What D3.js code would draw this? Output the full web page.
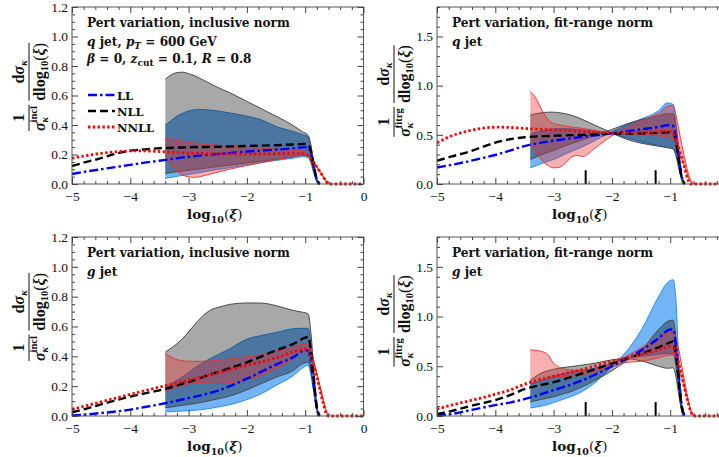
<!DOCTYPE html>
<html><head><meta charset="utf-8">
<script src="https://cdn.jsdelivr.net/npm/d3@7"></script>
<style>
body{margin:0;background:#fff}
svg{display:block}
text{font-family:"Liberation Serif","Times New Roman",serif;fill:#111}
.dv{font-family:"DejaVu Serif",serif}
</style>
</head><body>
<svg id="c" width="719" height="457"></svg>
<script>
// ---------- DATA ----------
const lineX = [-5,-4.75,-4.5,-4.25,-4,-3.75,-3.5,-3,-2.5,-2,-1.5,-1.2,-1.0,-0.95,-0.9,-0.85,-0.8,-0.75,-0.7,-0.65,-0.6,0];
const bandX = [-3.4,-3.3,-3.2,-3.1,-3.0,-2.9,-2.8,-2.7,-2.6,-2.5,-2.3,-2.0,-1.75,-1.5,-1.2,-1.05,-0.95,-0.9,-0.85,-0.8,-0.75,-0.7,-0.65,-0.6];
const xTicks = [-5,-4,-3,-2,-1,0];
const xTickLabels = ["\u22125","\u22124","\u22123","\u22122","\u22121","0"];
const yTicksIncl = [0,0.2,0.4,0.6,0.8,1.0,1.2];
const yTickLabelsIncl = ["0.0","0.2","0.4","0.6","0.8","1.0","1.2"];
const yTicksFit = [0,0.5,1.0,1.5];
const yTickLabelsFit = ["0.0","0.5","1.0","1.5"];
const fitMarks = [-2.45,-1.25];
const legendLabels = ["LL","NLL","NNLL"];

// q jet, inclusive norm
const qInclLL   = [0.068,0.085,0.10,0.115,0.13,0.145,0.158,0.185,0.203,0.22,0.233,0.242,0.25,0.25,0.2,0.11,0.03,0,0,0,0,0];
const qInclNLL  = [0.122,0.15,0.175,0.205,0.226,0.235,0.242,0.249,0.253,0.258,0.263,0.268,0.272,0.27,0.22,0.12,0.03,0,0,0,0,0];
const qInclNNLL = [0.174,0.193,0.208,0.218,0.224,0.224,0.22,0.21,0.205,0.203,0.205,0.207,0.205,0.19,0.17,0.145,0.115,0.085,0.055,0.025,0,0];
const qInclGrayA = [0.71,0.74,0.755,0.758,0.748,0.735,0.715,0.695,0.675,0.655,0.62,0.56,0.51,0.46,0.395,0.355,0.33,0.26,0.13,0.03,0,0,0,0];
const qInclGrayB = [0.072,0.077,0.083,0.088,0.093,0.098,0.103,0.108,0.113,0.118,0.128,0.143,0.155,0.168,0.185,0.195,0.19,0.15,0.08,0.02,0,0,0,0];
const qInclBlueA = [0.40,0.43,0.46,0.48,0.495,0.503,0.505,0.503,0.50,0.495,0.482,0.46,0.435,0.39,0.355,0.335,0.32,0.25,0.12,0.03,0,0,0,0];
const qInclBlueB = [0.038,0.045,0.052,0.058,0.065,0.072,0.078,0.085,0.092,0.098,0.11,0.13,0.145,0.16,0.175,0.185,0.18,0.14,0.07,0.015,0,0,0,0];
const qInclRedA  = [0.31,0.305,0.298,0.29,0.282,0.277,0.272,0.268,0.265,0.263,0.258,0.25,0.243,0.237,0.23,0.226,0.21,0.185,0.155,0.12,0.09,0.06,0.03,0];
const qInclRedB  = [0.19,0.13,0.085,0.06,0.048,0.045,0.05,0.06,0.07,0.08,0.10,0.125,0.145,0.165,0.185,0.2,0.19,0.17,0.14,0.11,0.08,0.05,0.02,0];

// q jet, fit-range norm
const qFitLL   = [0.167,0.195,0.225,0.26,0.295,0.34,0.385,0.44,0.48,0.515,0.555,0.58,0.60,0.59,0.47,0.26,0.07,0,0,0,0,0];
const qFitNLL  = [0.236,0.28,0.32,0.37,0.42,0.455,0.475,0.49,0.50,0.51,0.515,0.52,0.525,0.52,0.42,0.23,0.06,0,0,0,0,0];
const qFitNNLL = [0.42,0.49,0.535,0.565,0.578,0.575,0.565,0.55,0.535,0.52,0.525,0.535,0.535,0.52,0.44,0.36,0.26,0.16,0.05,0,0,0];
const qFitGrayA = [0.70,0.715,0.725,0.73,0.73,0.725,0.715,0.70,0.68,0.655,0.60,0.52,0.455,0.415,0.385,0.37,0.36,0.29,0.16,0.04,0,0,0,0];
const qFitGrayB = [0.25,0.275,0.30,0.32,0.34,0.365,0.39,0.41,0.43,0.45,0.49,0.555,0.61,0.655,0.695,0.715,0.715,0.57,0.31,0.08,0,0,0,0];
const qFitBlueA = [0.51,0.525,0.54,0.55,0.56,0.562,0.562,0.56,0.555,0.55,0.535,0.51,0.47,0.43,0.39,0.37,0.355,0.28,0.15,0.04,0,0,0,0];
const qFitBlueB = [0.165,0.185,0.21,0.23,0.25,0.275,0.305,0.33,0.355,0.38,0.44,0.53,0.60,0.66,0.745,0.825,0.81,0.62,0.33,0.08,0,0,0,0];
const qFitRedA  = [0.94,0.87,0.75,0.66,0.615,0.60,0.59,0.58,0.573,0.565,0.545,0.515,0.51,0.505,0.49,0.475,0.46,0.40,0.33,0.25,0.17,0.08,0.02,0];
const qFitRedB  = [0.42,0.32,0.24,0.19,0.165,0.17,0.21,0.27,0.29,0.28,0.36,0.49,0.57,0.64,0.72,0.79,0.80,0.70,0.55,0.40,0.26,0.13,0.04,0];

// g jet, inclusive norm
const gInclLL   = [0.003,0.01,0.02,0.03,0.043,0.06,0.078,0.12,0.17,0.25,0.345,0.395,0.44,0.44,0.36,0.2,0.05,0,0,0,0,0];
const gInclNLL  = [0.025,0.05,0.078,0.105,0.13,0.152,0.172,0.229,0.295,0.36,0.44,0.484,0.525,0.53,0.43,0.24,0.06,0,0,0,0,0];
const gInclNNLL = [0.045,0.07,0.095,0.12,0.145,0.17,0.194,0.24,0.29,0.34,0.39,0.43,0.45,0.445,0.40,0.33,0.26,0.18,0.10,0.03,0,0];
const gInclGrayA = [0.428,0.455,0.484,0.52,0.565,0.61,0.655,0.69,0.715,0.727,0.748,0.758,0.757,0.74,0.707,0.696,0.685,0.55,0.3,0.07,0,0,0,0];
const gInclGrayB = [0.056,0.06,0.066,0.072,0.077,0.083,0.09,0.098,0.106,0.115,0.133,0.175,0.218,0.26,0.306,0.35,0.36,0.29,0.16,0.04,0,0,0,0];
const gInclBlueA = [0.19,0.215,0.24,0.265,0.29,0.32,0.345,0.37,0.39,0.41,0.45,0.515,0.54,0.56,0.585,0.588,0.588,0.47,0.26,0.06,0,0,0,0];
const gInclBlueB = [0.027,0.029,0.031,0.034,0.036,0.038,0.042,0.047,0.053,0.06,0.075,0.11,0.15,0.205,0.272,0.32,0.34,0.27,0.15,0.035,0,0,0,0];
const gInclRedA  = [0.42,0.395,0.378,0.37,0.367,0.366,0.366,0.368,0.37,0.373,0.383,0.397,0.41,0.435,0.462,0.484,0.475,0.44,0.37,0.29,0.21,0.13,0.05,0];
const gInclRedB  = [0.16,0.18,0.194,0.205,0.215,0.222,0.226,0.225,0.218,0.218,0.222,0.243,0.272,0.317,0.384,0.43,0.43,0.40,0.34,0.27,0.19,0.11,0.04,0];

// g jet, fit-range norm
const gFitLL   = [0.005,0.02,0.05,0.08,0.11,0.135,0.17,0.26,0.36,0.5,0.66,0.78,0.87,0.87,0.7,0.38,0.1,0,0,0,0,0];
const gFitNLL  = [0.02,0.05,0.09,0.125,0.16,0.21,0.27,0.34,0.43,0.53,0.625,0.69,0.74,0.75,0.6,0.33,0.08,0,0,0,0,0];
const gFitNNLL = [0.07,0.11,0.145,0.18,0.22,0.26,0.32,0.40,0.47,0.55,0.62,0.665,0.70,0.69,0.62,0.52,0.40,0.27,0.15,0.05,0,0];
const gFitGrayA = [0.36,0.40,0.435,0.455,0.47,0.48,0.49,0.497,0.505,0.513,0.53,0.565,0.575,0.555,0.50,0.48,0.485,0.39,0.2,0.05,0,0,0,0];
const gFitGrayB = [0.142,0.155,0.168,0.18,0.193,0.21,0.228,0.245,0.27,0.295,0.355,0.455,0.555,0.66,0.87,0.95,0.965,0.77,0.4,0.1,0,0,0,0];
const gFitBlueA = [0.32,0.34,0.36,0.38,0.40,0.415,0.43,0.44,0.45,0.46,0.48,0.53,0.58,0.60,0.62,0.63,0.62,0.5,0.25,0.05,0,0,0,0];
const gFitBlueB = [0.08,0.09,0.10,0.115,0.135,0.155,0.175,0.195,0.22,0.25,0.33,0.50,0.65,0.86,1.2,1.34,1.37,1.15,0.5,0.1,0,0,0,0];
const gFitRedA  = [0.665,0.66,0.648,0.62,0.53,0.49,0.47,0.462,0.46,0.462,0.47,0.50,0.54,0.55,0.585,0.61,0.614,0.57,0.48,0.38,0.27,0.16,0.06,0];
const gFitRedB  = [0.33,0.345,0.36,0.375,0.39,0.395,0.398,0.40,0.405,0.415,0.44,0.52,0.60,0.685,0.78,0.835,0.85,0.78,0.66,0.50,0.34,0.19,0.06,0];

// ---------- DRAW ----------
const svg = d3.select("#c");
const PW = 291.5;
const panels = [
  {x0:72,  y0:184, y1:7,   ymax:1.2, norm:"incl", kind:"incl", jet:"q", ll:qInclLL, nll:qInclNLL, nnll:qInclNNLL,
   gA:qInclGrayA,gB:qInclGrayB,bA:qInclBlueA,bB:qInclBlueB,rA:qInclRedA,rB:qInclRedB},
  {x0:437, y0:184, y1:7,   ymax:1.8, norm:"fitrg", kind:"fit", jet:"q", ll:qFitLL, nll:qFitNLL, nnll:qFitNNLL,
   gA:qFitGrayA,gB:qFitGrayB,bA:qFitBlueA,bB:qFitBlueB,rA:qFitRedA,rB:qFitRedB},
  {x0:72,  y0:416, y1:237, ymax:1.2, norm:"incl", kind:"incl", jet:"g", ll:gInclLL, nll:gInclNLL, nnll:gInclNNLL,
   gA:gInclGrayA,gB:gInclGrayB,bA:gInclBlueA,bB:gInclBlueB,rA:gInclRedA,rB:gInclRedB},
  {x0:437, y0:416, y1:237, ymax:1.8, norm:"fitrg", kind:"fit", jet:"g", ll:gFitLL, nll:gFitNLL, nnll:gFitNNLL,
   gA:gFitGrayA,gB:gFitGrayB,bA:gFitBlueA,bB:gFitBlueB,rA:gFitRedA,rB:gFitRedB}
];

const styles = {
  LL:   {stroke:"#0000ff", w:2.4, dash:"9,3,2.5,3"},
  NLL:  {stroke:"#000000", w:2.4, dash:"8,4"},
  NNLL: {stroke:"#ff0000", w:2.8, dash:"2.4,2.4"}
};
const bandStyle = {
  blue: {fill:"rgba(20,130,240,0.6)", stroke:"#2a8ff0"},
  gray: {fill:"rgba(0,0,0,0.34)", stroke:"#4a4a4a"},
  red:  {fill:"rgba(235,45,45,0.38)", stroke:"rgba(230,50,50,0.9)"}
};

// measure title font size so its width matches the reference
const probe = svg.append("text").attr("class","dv").attr("font-size",12).attr("font-weight","bold")
  .text("Pert variation, inclusive norm");
const TFS = 12 * 203 / probe.node().getComputedTextLength();
probe.remove();

panels.forEach((p, pi) => {
  const x = d3.scaleLinear().domain([-5,0]).range([p.x0, p.x0+PW]);
  const y = d3.scaleLinear().domain([0,p.ymax]).range([p.y0, p.y1]);
  const g = svg.append("g");
  const cid = "clip"+pi;
  svg.append("clipPath").attr("id",cid).append("rect")
    .attr("x",p.x0).attr("y",p.y1).attr("width",PW).attr("height",p.y0-p.y1+3);
  const plot = g.append("g").attr("clip-path","url(#"+cid+")");

  [["blue",p.bA,p.bB],["gray",p.gA,p.gB],["red",p.rA,p.rB]].forEach(([k,A,B])=>{
    const s = bandStyle[k];
    const lim = k==="red" ? -0.6 : -0.75;
    const ar = d3.area().defined((d,i)=>bandX[i] <= lim+1e-9).x((d,i)=>x(bandX[i])).y0(d=>y(d[0])).y1(d=>y(d[1])).curve(d3.curveMonotoneX);
    const bl = d3.line().defined((d,i)=>bandX[i] <= lim+1e-9).x((d,i)=>x(bandX[i])).y(d=>y(d)).curve(d3.curveMonotoneX);
    plot.append("path").datum(A.map((a,i)=>[a,B[i]])).attr("d",ar).attr("fill",s.fill).attr("stroke","none");
    [A,B].forEach(E=>plot.append("path").datum(E).attr("d",bl).attr("fill","none")
      .attr("stroke",s.stroke).attr("stroke-width",1));
  });

  [["LL",p.ll],["NLL",p.nll],["NNLL",p.nnll]].forEach(([k,arr])=>{
    const s = styles[k];
    const lim = k==="NNLL" ? 0 : -0.75;
    const ll = d3.line().defined((d,i)=>lineX[i] <= lim+1e-9).x((d,i)=>x(lineX[i])).y(d=>y(d)).curve(d3.curveMonotoneX);
    plot.append("path").datum(arr).attr("d",ll).attr("fill","none")
      .attr("stroke",s.stroke).attr("stroke-width",s.w).attr("stroke-dasharray",s.dash);
  });

  if (p.kind==="fit") {
    fitMarks.forEach(m=>plot.append("line").attr("x1",x(m)).attr("x2",x(m))
      .attr("y1",y(0)).attr("y2",y(0.14)).attr("stroke","#000").attr("stroke-width",2));
  }

  // frame
  g.append("rect").attr("x",p.x0).attr("y",p.y1).attr("width",PW).attr("height",p.y0-p.y1)
    .attr("fill","none").attr("stroke","#555").attr("stroke-width",1);

  // ticks
  const xMinor = d3.range(-5,0.001,0.2).map(v=>Math.round(v*10)/10).filter(v=>Math.abs(v-Math.round(v))>1e-6);
  const yStep = p.kind==="incl"?0.05:0.1;
  const yMaj = p.kind==="incl"?yTicksIncl:yTicksFit;
  const yLab = p.kind==="incl"?yTickLabelsIncl:yTickLabelsFit;
  const yMinor = d3.range(0,p.ymax+0.001,yStep).map(v=>Math.round(v*100)/100).filter(v=>!yMaj.some(m=>Math.abs(m-v)<1e-6));
  const xMajShown = p.kind==="incl" ? xTicks : xTicks.slice(0,5);

  const style = sel => { sel.select(".domain").remove(); sel.selectAll("line").attr("stroke","#444");
    sel.selectAll("text").attr("font-size",13.5).attr("fill","#111").attr("font-family","Liberation Serif, serif"); };

  g.append("g").attr("transform",`translate(0,${p.y0})`)
    .call(d3.axisBottom(x).tickValues(xMajShown).tickSizeInner(-6).tickSizeOuter(0).tickPadding(7)
      .tickFormat((d,i)=>xTickLabels[i])).call(style);
  g.append("g").attr("transform",`translate(0,${p.y0})`)
    .call(d3.axisBottom(x).tickValues(xMinor).tickSizeInner(-3).tickSizeOuter(0).tickFormat("")).call(style);
  g.append("g").attr("transform",`translate(0,${p.y1})`)
    .call(d3.axisTop(x).tickValues(xTicks).tickSizeInner(-6).tickSizeOuter(0).tickFormat("")).call(style);
  g.append("g").attr("transform",`translate(0,${p.y1})`)
    .call(d3.axisTop(x).tickValues(xMinor).tickSizeInner(-3).tickSizeOuter(0).tickFormat("")).call(style);

  g.append("g").attr("transform",`translate(${p.x0},0)`)
    .call(d3.axisLeft(y).tickValues(yMaj).tickSizeInner(-6).tickSizeOuter(0).tickPadding(4)
      .tickFormat((d,i)=>yLab[i])).call(style);
  g.append("g").attr("transform",`translate(${p.x0},0)`)
    .call(d3.axisLeft(y).tickValues(yMinor).tickSizeInner(-3).tickSizeOuter(0).tickFormat("")).call(style);
  g.append("g").attr("transform",`translate(${p.x0+PW},0)`)
    .call(d3.axisRight(y).tickValues(yMaj).tickSizeInner(-6).tickSizeOuter(0).tickFormat("")).call(style);
  g.append("g").attr("transform",`translate(${p.x0+PW},0)`)
    .call(d3.axisRight(y).tickValues(yMinor).tickSizeInner(-3).tickSizeOuter(0).tickFormat("")).call(style);

  // x axis title
  const xt = g.append("text").attr("class","dv").attr("x",p.x0+PW/2-3).attr("y",p.y0+35).attr("text-anchor","middle")
    .attr("font-size",13.5).attr("font-weight","bold");
  xt.append("tspan").text("log");
  xt.append("tspan").attr("font-size",9.5).attr("dy",4).text("10");
  xt.append("tspan").attr("dy",-4).attr("font-weight","normal").text("(");
  xt.append("tspan").attr("font-style","italic").text("\u03BE");
  xt.append("tspan").attr("font-weight","normal").text(")");

  // y axis label (rotated fraction)
  const bx = p.x0 - 43, cy = p.y1 + (p.kind==="incl" ? 80 : 84);
  const yl = g.append("g").attr("class","dv").attr("transform",`translate(${bx},${cy}) rotate(-90)`)
    .attr("font-weight","bold");
  const fs = 16, fsS = 10.5;
  const d1 = yl.append("text").attr("y",15.5).attr("font-size",fs);
  d1.append("tspan").attr("font-style","italic").text("\u03C3");
  const sup = d1.append("tspan").attr("font-size",fsS).attr("dy",-7.5).text(p.norm);
  const supW = sup.node().getComputedTextLength();
  d1.append("tspan").attr("font-size",fsS).attr("font-style","italic").attr("dx",-supW).attr("dy",10.5).text("\u03BA");
  const d2 = yl.append("text").attr("y",15.5).attr("font-size",fs);
  d2.append("tspan").text("dlog");
  d2.append("tspan").attr("font-size",fsS).attr("dy",3.5).text("10");
  d2.append("tspan").attr("dy",-3.5).attr("font-weight","normal").text("(");
  d2.append("tspan").attr("font-style","italic").text("\u03BE");
  d2.append("tspan").attr("font-weight","normal").text(")");
  const w1 = Math.max(d1.node().getBBox().width, supW+10);
  const w2 = d2.node().getBBox().width;
  const gap = 4;
  const total = w1 + gap + w2;
  const start1 = -total/2;
  d1.attr("x", start1);
  const start2 = start1 + w1 + gap;
  d2.attr("x", start2);
  yl.append("text").attr("x",start1+w1/2).attr("y",-5).attr("text-anchor","middle").attr("font-size",fs).text("1");
  const n2 = yl.append("text").attr("x",start2+w2/2).attr("y",-5).attr("text-anchor","middle").attr("font-size",fs);
  n2.append("tspan").text("d");
  n2.append("tspan").attr("font-style","italic").text("\u03C3");
  n2.append("tspan").attr("font-size",fsS).attr("font-style","italic").attr("dy",3).text("\u03BA");
  yl.append("line").attr("x1",start1).attr("x2",start1+w1).attr("y1",0).attr("y2",0).attr("stroke","#111").attr("stroke-width",1);
  yl.append("line").attr("x1",start2).attr("x2",start2+w2).attr("y1",0).attr("y2",0).attr("stroke","#111").attr("stroke-width",1);

  // titles
  const tx = p.x0 + 15, ty = p.y1 + 20;
  g.append("text").attr("class","dv").attr("x",tx).attr("y",ty).attr("font-size",TFS).attr("font-weight","bold")
    .text(p.kind==="incl" ? "Pert variation, inclusive norm" : "Pert variation, fit-range norm");
  const t2 = g.append("text").attr("class","dv").attr("x",tx).attr("y",ty+18.5).attr("font-size",TFS).attr("font-weight","bold");
  t2.append("tspan").attr("font-style","italic").text(p.jet);
  t2.append("tspan").text(" jet");
  if (pi===0) {
    t2.append("tspan").text(", ");
    t2.append("tspan").attr("font-style","italic").text("p");
    t2.append("tspan").attr("font-style","italic").attr("font-size",9).attr("dy",3).text("T");
    t2.append("tspan").attr("dy",-3).text(" = 600 GeV");
    const t3 = g.append("text").attr("class","dv").attr("x",tx).attr("y",ty+36).attr("font-size",TFS).attr("font-weight","bold");
    t3.append("tspan").attr("font-style","italic").text("\u03B2");
    t3.append("tspan").text(" =  0,  ");
    t3.append("tspan").attr("font-style","italic").text("z");
    t3.append("tspan").attr("font-size",9).attr("dy",3).text("cut");
    t3.append("tspan").attr("dy",-3).text(" = 0.1,  ");
    t3.append("tspan").attr("font-style","italic").text("R");
    t3.append("tspan").text(" = 0.8");

    // legend
    legendLabels.forEach((lab,i)=>{
      const ly = 95 + i*16;
      const s = styles[lab];
      g.append("line").attr("x1",88).attr("x2",115).attr("y1",ly).attr("y2",ly)
        .attr("stroke",s.stroke).attr("stroke-width",s.w).attr("stroke-dasharray",s.dash);
      g.append("text").attr("class","dv").attr("x",117).attr("y",ly+4.5).attr("font-size",11.5).attr("font-weight","bold").text(lab);
    });
  }
});
</script>
</body></html>
